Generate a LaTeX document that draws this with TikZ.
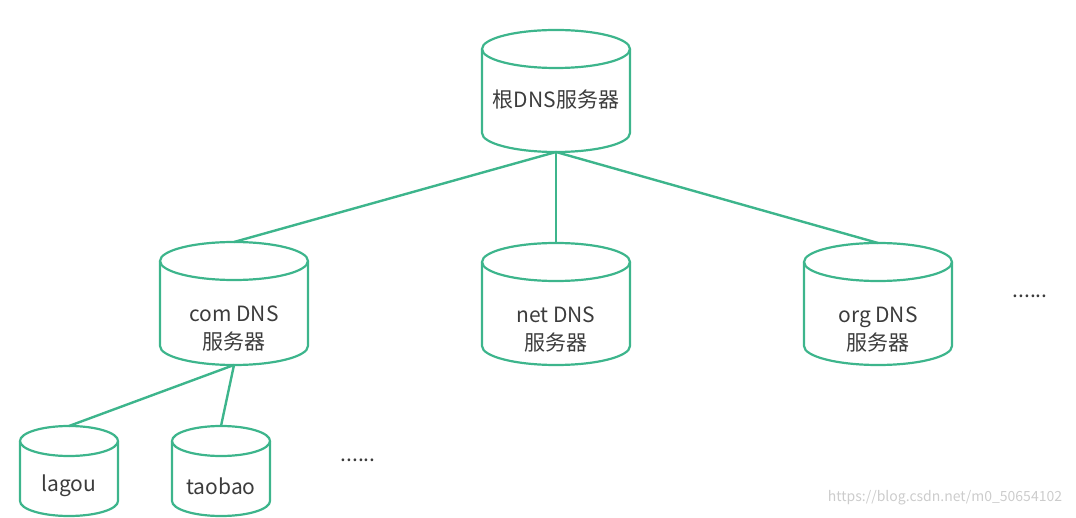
\documentclass[tikz,border=0pt]{standalone}
\usepackage{fontspec}
\setmainfont{Noto Sans CJK SC}
\definecolor{dnsgreen}{HTML}{3DB58C}
\definecolor{dnstext}{HTML}{3C3C3C}
% #1 name, #2 centre x, #3 top y, #4 bottom y, #5 x radius, #6 y radius
\newcommand\dnsdb[6]{%
  \draw[dbline] (#2,#3+#6) ellipse[x radius=#5pt, y radius=#6pt];
  \draw[dbline] (#2-#5,#3+#6) -- (#2-#5,#4-#6)
    arc[start angle=180, end angle=360, x radius=#5pt, y radius=#6pt]
    -- (#2+#5,#3+#6);
  \coordinate (#1-top) at (#2,#3);
  \coordinate (#1-bottom) at (#2,#4);
}
\begin{document}
\begin{tikzpicture}[x=1pt,y=-1pt,
    dbline/.style={draw=dnsgreen, line width=2.2pt},
    srvtext/.style={text=dnstext, align=center, font=\fontsize{21}{28}\selectfont},
    link/.style={draw=dnsgreen, line width=2.4pt}]
  \useasboundingbox (0,0) rectangle (1076,518);
  % servers
  \dnsdb{root}{556}{30}{152}{74}{19}
  \dnsdb{com}{234}{242}{365}{74}{19}
  \dnsdb{net}{556}{243}{365}{74}{19}
  \dnsdb{org}{878}{243}{365}{74}{19}
  \dnsdb{lagou}{69}{426}{516}{49}{15}
  \dnsdb{taobao}{221}{426}{516}{49}{15}
  % labels
  \node[srvtext] (rootlabel) at (556,100) {根DNS服务器};
  \node[srvtext] (comlabel) at (234,329) {com DNS\\服务器};
  \node[srvtext] (netlabel) at (556,330) {net DNS\\服务器};
  \node[srvtext] (orglabel) at (878,330) {org DNS\\服务器};
  \node[srvtext] (lagoulabel) at (69,486) {lagou};
  \node[srvtext] (taobaolabel) at (221,486) {taobao};
  % more
  \node[srvtext] (moretop) at (1030,296) {......};
  \node[srvtext] (moreleaf) at (358,460) {......};
  % links
  \foreach \t in {com, net, org}{
    \draw[link] (root-bottom) -- (\t-top);
  }
  \foreach \t in {lagou, taobao}{
    \draw[link] (com-bottom) -- (\t-top);
  }
  \node[text=gray!40, font=\fontsize{14}{16}\selectfont] (mark) at (945,498) {https://blog.csdn.net/m0\_50654102};
\end{tikzpicture}
\end{document}
